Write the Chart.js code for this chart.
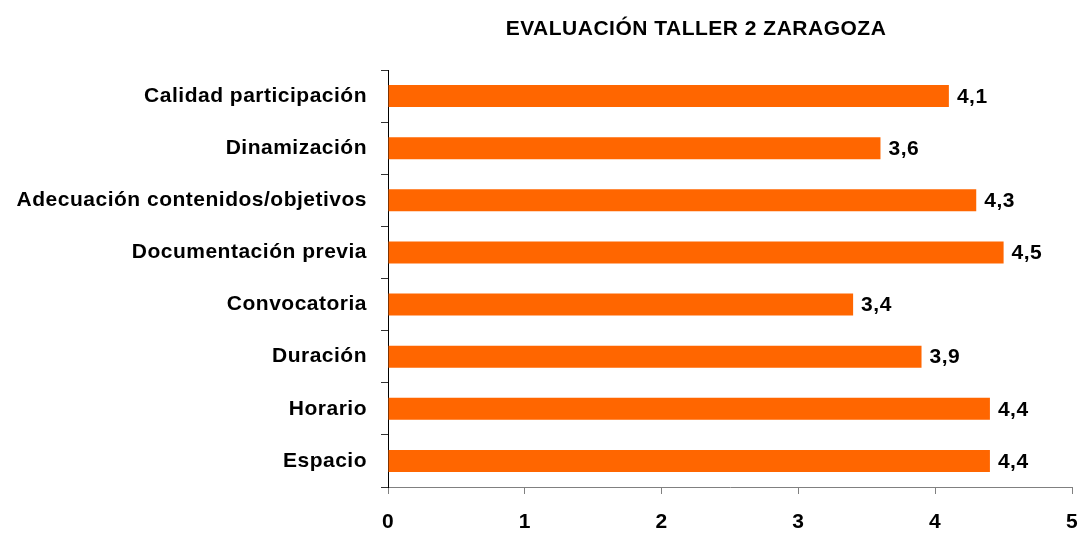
<!DOCTYPE html>
<html>
<head>
<meta charset="utf-8">
<script src="https://cdn.jsdelivr.net/npm/chart.js@4/dist/chart.umd.min.js"></script>
<style>
  html, body { margin: 0; padding: 0; background: #fff; }
  #wrap { width: 1082px; height: 534px; position: relative; }
</style>
</head>
<body>
<div id="wrap"><canvas id="tallerChart"></canvas></div>
<script>
// Datos del gráfico
const chartTitle = "EVALUACIÓN TALLER 2 ZARAGOZA";
const categories = [
  "Calidad participación",
  "Dinamización",
  "Adecuación contenidos/objetivos",
  "Documentación previa",
  "Convocatoria",
  "Duración",
  "Horario",
  "Espacio",
];
const scores = [4.1, 3.6, 4.3, 4.5, 3.4, 3.9, 4.4, 4.4];
const xTicks = [0, 1, 2, 3, 4, 5];

const FONT = "'Liberation Sans', Arial, sans-serif";

// wider text like the original (letter spacing on the whole canvas)
const spacingPlugin = {
  id: "spacingPlugin",
  beforeInit(chart) {
    chart.ctx.letterSpacing = "0.5px";
  },
  beforeDraw(chart) {
    chart.ctx.letterSpacing = "0.5px";
  },
};

// title + value labels
const labelPlugin = {
  id: "labelPlugin",
  afterDatasetsDraw(chart) {
    const ctx = chart.ctx;
    ctx.save();
    ctx.fillStyle = "#000";
    ctx.font = "bold 21px " + FONT;
    ctx.textAlign = "center";
    ctx.textBaseline = "middle";
    ctx.fillText(chartTitle, 696, 29);

    ctx.textAlign = "left";
    const meta = chart.getDatasetMeta(0);
    meta.data.forEach((bar, i) => {
      const txt = scores[i].toFixed(1).replace(".", ",");
      ctx.fillText(txt, bar.x + 8, bar.y + 1);
    });
    ctx.restore();
  },
};

const ctx = document.getElementById("tallerChart").getContext("2d");
new Chart(ctx, {
  type: "bar",
  data: {
    labels: categories,
    datasets: [
      {
        data: scores,
        backgroundColor: "#FF6600",
        borderWidth: 0,
        categoryPercentage: 1,
        barPercentage: 0.42,
      },
    ],
  },
  options: {
    indexAxis: "y",
    responsive: true,
    maintainAspectRatio: false,
    animation: false,
    layout: { padding: { top: 70, right: 10, left: 0, bottom: 0 } },
    plugins: {
      legend: { display: false },
      tooltip: { enabled: false },
    },
    scales: {
      x: {
        min: 0,
        max: 5,
        afterBuildTicks: (scale) => {
          scale.ticks = xTicks.map((v) => ({ value: v }));
        },
        afterFit: (scale) => {
          scale.height = 47;
          scale.paddingRight = 0;
          scale.paddingLeft = 0;
        },
        border: { color: "#808080", width: 1 },
        grid: {
          drawOnChartArea: false,
          color: "#808080",
          tickLength: 7,
        },
        ticks: {
          color: "#000",
          padding: 16,
          font: { family: FONT, size: 21, weight: "bold" },
        },
      },
      y: {
        afterFit: (scale) => {
          scale.width = 388;
          scale.paddingTop = 0;
          scale.paddingBottom = 0;
        },
        border: { color: "#000", width: 1 },
        grid: {
          offset: true,
          drawOnChartArea: false,
          color: "#333",
          tickLength: 7,
        },
        ticks: {
          color: "#000",
          padding: 14,
          font: { family: FONT, size: 21, weight: "bold" },
        },
      },
    },
  },
  plugins: [spacingPlugin, labelPlugin],
});
</script>
</body>
</html>
